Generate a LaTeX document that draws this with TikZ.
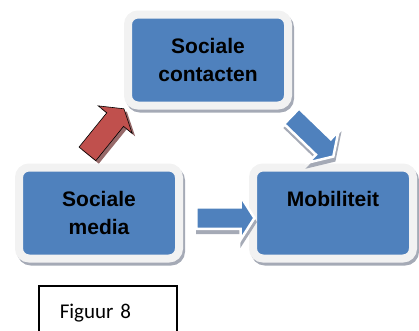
\documentclass[tikz,border=0pt]{standalone}
\usepackage{fontspec}
\setmainfont{Liberation Sans}
\newfontfamily\calibri{Carlito}
\usetikzlibrary{shapes.arrows}
\definecolor{blokblauw}{RGB}{79,129,189}
\definecolor{pijlrood}{RGB}{192,80,77}
\definecolor{rand}{RGB}{242,242,242}
\definecolor{schaduw}{RGB}{165,170,182}
\definecolor{roodschaduw}{RGB}{150,105,105}
\tikzset{
  blok/.style={rounded corners=10pt, fill=blokblauw, draw=rand, line width=8pt,
    minimum width=160pt, minimum height=91pt, align=center,
    font=\bfseries\fontsize{21}{28}\selectfont,
    preaction={draw=schaduw, fill=schaduw, transform canvas={shift={(2pt,-3pt)}}}},
  pijl/.style={single arrow, minimum height=58pt, inner sep=9.5pt,
    single arrow head extend=11pt, single arrow tip angle=115},
  blauwepijl/.style={pijl, fill=blokblauw, draw=white, line width=2.5pt,
    preaction={fill=schaduw, draw=schaduw, transform canvas={shift={(1pt,-4pt)}}}},
  rodepijl/.style={pijl, fill=pijlrood, draw=black, line width=0.6pt, inner sep=10.5pt,
    preaction={fill=roodschaduw, transform canvas={shift={(3pt,-3pt)}}}},
  kader/.style={draw, line width=1.5pt, anchor=north west, align=left,
    inner xsep=21pt, inner ysep=9pt, text width=96pt, text height=24pt, text depth=30pt,
    font=\calibri\fontsize{21}{25}\selectfont}
}
\begin{document}
\begin{tikzpicture}[x=1pt,y=-1pt]
\useasboundingbox (0,0) rectangle (419,330);
\clip (0,0) rectangle (419,330);
% blokken
\node[blok] (contacten) at (208,60) {Sociale\\contacten};
\node[blok] (media) at (99,213) {Sociale\\media};
\node[blok] (mobiliteit) at (333,213) {Mobiliteit\\\mbox{}};
% pijlen
\node[rodepijl, rotate=51] (mediacontacten) at (103.5,134) {};
\node[blauwepijl, rotate=-44] (contactenmobiliteit) at (310,134) {};
\node[blauwepijl] (mediamobiliteit) at (222,218) {};
\node[kader] (figuur) at (38,285) {Figuur 8};
\end{tikzpicture}
\end{document}
